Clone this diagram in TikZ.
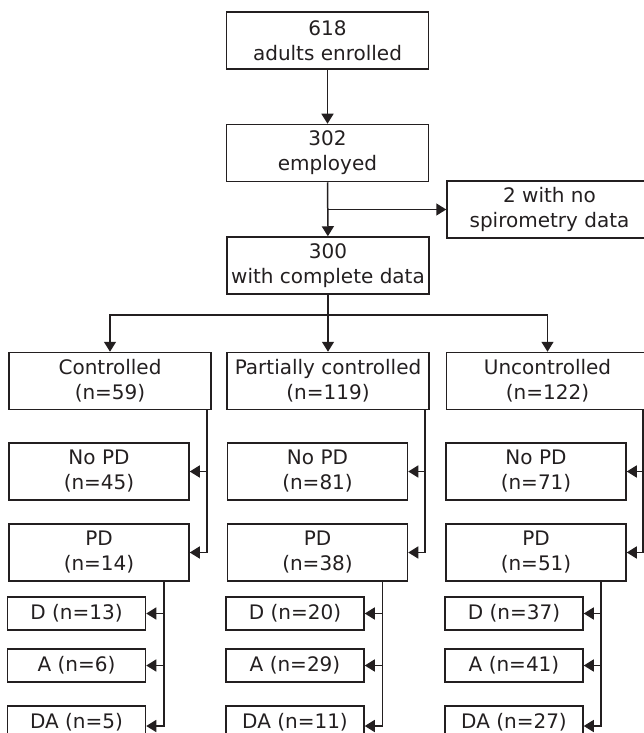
\documentclass[tikz,border=0pt]{standalone}
\usepackage{fontspec}
\setmainfont{DejaVu Sans}
\usetikzlibrary{arrows.meta}
\definecolor{ink}{HTML}{231F20}

\begin{document}
\begin{tikzpicture}[
  x=1pt, y=-1pt,
  box/.style={draw=ink, line width=1.5pt, align=center, inner sep=0pt,
    minimum height=57pt, text=ink, font=\fontsize{20}{25}\selectfont},
  bigbox/.style={box, minimum width=202pt},
  subbox/.style={box, minimum width=180pt},
  leafbox/.style={box, minimum width=138pt, minimum height=33pt},
  link/.style={draw=ink, line width=1.5pt},
  flow/.style={link, -{Triangle[length=10pt,width=12pt]}}
]
\useasboundingbox (0,0) rectangle (644,733);
\clip (0,0) rectangle (644,733);

% Trunk
\node[bigbox] (enrol) at (327.5,40.5) {618\\adults enrolled};
\node[bigbox] (employ) at (327.5,153) {302\\employed};
\node[box, minimum width=205pt] (nodata) at (549.5,209.5) {2 with no\\spirometry data};
\node[bigbox] (complete) at (328,265.5) {300\\with complete data};

% Control groups
\node[bigbox] (ctrl) at (110,381) {Controlled\\(n=59)};
\node[bigbox] (part) at (328,381) {Partially controlled\\(n=119)};
\node[bigbox] (unctrl) at (547.5,381) {Uncontrolled\\(n=122)};

\node[subbox] (ctrl-no) at (99,471.5) {No PD\\(n=45)};
\node[subbox] (part-no) at (317.5,471.5) {No PD\\(n=81)};
\node[subbox] (unctrl-no) at (536,471.5) {No PD\\(n=71)};

\node[subbox] (ctrl-pd) at (99,552.5) {PD\\(n=14)};
\node[subbox] (part-pd) at (317.5,552.5) {PD\\(n=38)};
\node[subbox] (unctrl-pd) at (536,552.5) {PD\\(n=51)};

% PD subtypes
\node[leafbox] (ctrl-d) at (76.5,613.5) {D (n=13)};
\node[leafbox] (part-d) at (295,613.5) {D (n=20)};
\node[leafbox] (unctrl-d) at (514,613.5) {D (n=37)};

\node[leafbox] (ctrl-a) at (76.5,665.5) {A (n=6)};
\node[leafbox] (part-a) at (295,665.5) {A (n=29)};
\node[leafbox] (unctrl-a) at (514,665.5) {A (n=41)};

\node[leafbox] (ctrl-da) at (76.5,722.5) {DA (n=5)};
\node[leafbox] (part-da) at (295,722.5) {DA (n=11)};
\node[leafbox] (unctrl-da) at (514,722.5) {DA (n=27)};

% Connectors
\draw[flow] (enrol) -- (employ);
\draw[flow] (employ) -- (complete);
\coordinate (drop) at (employ.south |- nodata.west);
\draw[flow] (drop) -- (nodata);

\coordinate (fork) at (328,315);
\draw[link] (complete) -- (fork);
\draw[flow] (fork) -| (ctrl);
\draw[flow] (fork) -- (part);
\draw[flow] (fork) -| (unctrl);

\foreach \g/\cut in {ctrl/5pt, part/5pt, unctrl/6.5pt} {
  \draw[flow] ([xshift=-\cut]\g.south east) |- (\g-no);
  \draw[flow] ([xshift=-\cut]\g.south east) |- (\g-pd);
  \draw[flow] ([xshift=-26pt]\g-pd.south east) |- (\g-d);
  \draw[flow] ([xshift=-26pt]\g-pd.south east) |- (\g-a);
  \draw[flow] ([xshift=-26pt]\g-pd.south east) |- ([yshift=-3.5pt]\g-da.east);
}
\end{tikzpicture}
\end{document}
